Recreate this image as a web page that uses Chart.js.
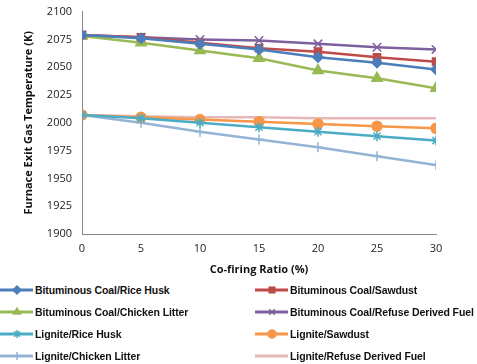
<!DOCTYPE html>
<html>
<head>
<meta charset="utf-8">
<script src="https://cdn.jsdelivr.net/npm/chart.js@4/dist/chart.umd.min.js"></script>
<style>
  body { margin: 0; background: #fff; font-family: "Liberation Sans", sans-serif; }
  #wrap { position: relative; width: 477px; height: 280px; }
  #legend { display: grid; grid-template-columns: 255px 222px; row-gap: 6px; margin-top: 2px; }
  .item { display: flex; align-items: center; height: 16px; font-size: 10.5px; font-weight: bold; color: #111; white-space: nowrap; letter-spacing: -0.1px; }
  .item canvas { margin-right: 1px; }
</style>
</head>
<body>
<div id="wrap"><canvas id="myChart" width="477" height="280"></canvas></div>
<div id="legend"></div>
<script>
const ratios = [0, 5, 10, 15, 20, 25, 30];
const yTicks = [1900, 1925, 1950, 1975, 2000, 2025, 2050, 2075, 2100];

const bitRiceHusk = [2079, 2076, 2071, 2066, 2059, 2054, 2048];
const bitSawdust = [2079, 2077, 2072, 2067, 2064, 2059, 2055];
const bitChickenLitter = [2078, 2072, 2065, 2058, 2047, 2040, 2031];
const bitRdf = [2079, 2077, 2075, 2074, 2071, 2068, 2066];
const ligRiceHusk = [2007, 2004, 2000, 1996, 1992, 1988, 1984];
const ligSawdust = [2007, 2005, 2003, 2001, 1999, 1997, 1995];
const ligChickenLitter = [2007, 2000, 1992, 1985, 1978, 1970, 1962];
const ligRdf = [2007, 2006, 2005, 2005, 2004, 2004, 2004];

function series(label, data, color, style, radius) {
    return {
        label: label,
        data: data,
        borderColor: color,
        backgroundColor: color,
        borderWidth: 2.5,
        pointStyle: style,
        pointRadius: radius,
        pointBorderWidth: 1.5,
        tension: 0
    };
}

const datasets = [
    series('Bituminous Coal/Rice Husk', bitRiceHusk, '#4A7EBB', 'rectRot', 5),
    series('Bituminous Coal/Sawdust', bitSawdust, '#BE4B48', 'rect', 5),
    series('Bituminous Coal/Chicken Litter', bitChickenLitter, '#98B954', 'triangle', 6),
    series('Bituminous Coal/Refuse Derived Fuel', bitRdf, '#7D60A0', 'crossRot', 6),
    series('Lignite/Rice Husk', ligRiceHusk, '#4BACC6', 'star', 5),
    series('Lignite/Sawdust', ligSawdust, '#F79646', 'circle', 5),
    series('Lignite/Chicken Litter', ligChickenLitter, '#95B3D7', 'cross', 5),
    series('Lignite/Refuse Derived Fuel', ligRdf, '#E6B9B8', 'line', 5)
];

const tickFont = { size: 11, family: 'Open Sans' };
const titleFont = { size: 11, weight: 'bold', family: 'Open Sans' };

const ctx = document.getElementById("myChart");
new Chart(ctx, {
    type: 'line',
    data: { labels: ratios, datasets: datasets },
    options: {
        responsive: false,
        animation: false,
        layout: { padding: { top: 5, right: 41, left: 0, bottom: 0 } },
        plugins: { legend: { display: false }, tooltip: { enabled: false } },
        scales: {
            x: {
                type: 'linear',
                min: 0, max: 30,
                afterBuildTicks: (s) => { s.ticks = ratios.map(v => ({ value: v })); },
                grid: { display: false, drawTicks: true, tickLength: 5, tickColor: '#868686' },
                border: { color: '#868686' },
                ticks: { color: '#222', font: tickFont, padding: 3, maxRotation: 0, callback: (v) => String(v) },
                title: { display: true, text: 'Co-firing Ratio (%)', color: '#111', font: titleFont, padding: { top: 2 } },
                afterFit: (s) => { s.height = 46; }
            },
            y: {
                min: 1900, max: 2100,
                afterBuildTicks: (s) => { s.ticks = yTicks.map(v => ({ value: v })); },
                grid: { display: false, drawTicks: true, tickLength: 5, tickColor: '#868686' },
                border: { color: '#868686' },
                ticks: { color: '#222', font: tickFont, padding: 5, callback: (v) => String(v) },
                title: { display: true, text: 'Furnace Exit Gas Temperature (K)', color: '#111', font: titleFont, padding: { top: 22, bottom: 0 } },
                afterFit: (s) => { s.width = 82; }
            }
        }
    }
});

// legend in two columns
const legend = document.getElementById('legend');
datasets.forEach(ds => {
    const item = document.createElement('div');
    item.className = 'item';
    const c = document.createElement('canvas');
    c.width = 34; c.height = 16;
    const g = c.getContext('2d');
    g.strokeStyle = ds.borderColor;
    g.lineWidth = 3;
    g.beginPath(); g.moveTo(0, 8); g.lineTo(33, 8); g.stroke();
    g.fillStyle = ds.backgroundColor;
    g.lineWidth = 1.5;
    Chart.helpers.drawPoint(g, { pointStyle: ds.pointStyle, radius: 4, borderWidth: 1.5, rotation: 0 }, 17, 8);
    item.appendChild(c);
    const t = document.createElement('span');
    t.textContent = ds.label;
    item.appendChild(t);
    legend.appendChild(item);
});
</script>
</body>
</html>
